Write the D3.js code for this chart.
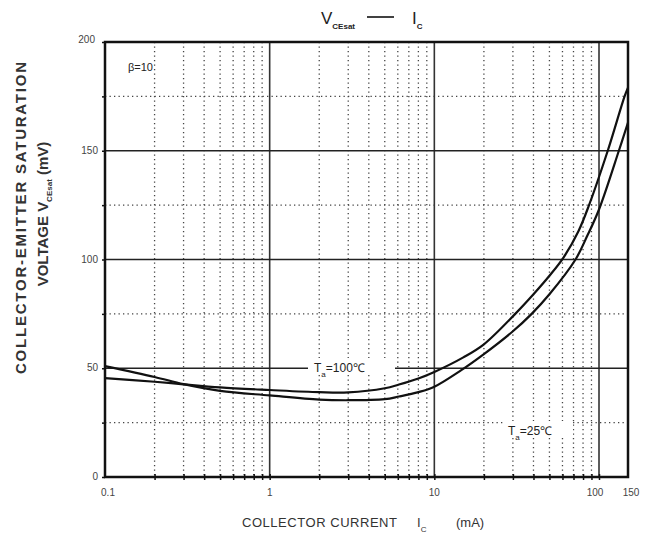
<!DOCTYPE html>
<html><head><meta charset="utf-8">
<script src="https://cdn.jsdelivr.net/npm/d3@7"></script>
<style>body{margin:0;background:#fff}svg{display:block}text{font-family:"Liberation Sans",Arial,sans-serif;fill:#222}</style>
</head><body>
<svg id="c" width="657" height="535"></svg>
<script>
// Data (mA, mV)
const ic100 = [0.1,0.2,0.3,0.5,1,2,3,5,6.1,8,10,15,20,31,40,50,61,75,87,113,143,150];
const vce100 = [45.5,43.8,42.6,41.2,40,39,38.9,40.8,42.5,45.3,48.3,55,61,75,84,92.5,101,113,125,150,175,179];
const ic25 = [0.1,0.2,0.3,0.5,1,2,3,5,6.1,8,10,14.5,20,30,39,50,72,85,100,132,150];
const vce25 = [51,46,42.7,39.6,37.5,35.6,35.3,35.8,37,39,41.5,49,56.5,67,75,84,100,111,123,150,163];
const xTickVals = [0.1,1,10,100,150];
const xTickLabels = ["0.1","1","10","100","150"];
const yTickVals = [0,50,100,150,200];
const yTickLabels = ["0","50","100","150","200"];

const svg = d3.select("#c");
const L=105, R=628, T=42, B=477;
const x = d3.scaleLog().domain([0.1,150]).range([L,R]);
const y = d3.scaleLinear().domain([0,200]).range([B,T]);
const g = svg.append("g");

// minor vertical dotted grid
const minors=[];
[0.1,1,10].forEach(d=>{for(let k=2;k<=9;k++) minors.push(d*k);});
g.selectAll(".vm").data(minors).join("line")
 .attr("x1",d=>x(d)).attr("x2",d=>x(d)).attr("y1",T).attr("y2",B)
 .attr("stroke","#444").attr("stroke-width",1.3).attr("stroke-dasharray","1.3,3.2");
// minor horizontal dotted
g.selectAll(".hm").data([25,75,125,175]).join("line")
 .attr("x1",L).attr("x2",R).attr("y1",d=>y(d)).attr("y2",d=>y(d))
 .attr("stroke","#444").attr("stroke-width",1.3).attr("stroke-dasharray","1.3,3.2");
// major
g.selectAll(".vM").data([1,10,100]).join("line")
 .attr("x1",d=>x(d)).attr("x2",d=>x(d)).attr("y1",T).attr("y2",B)
 .attr("stroke","#333").attr("stroke-width",1.6);
g.selectAll(".hM").data([50,100,150]).join("line")
 .attr("x1",L).attr("x2",R).attr("y1",d=>y(d)).attr("y2",d=>y(d))
 .attr("stroke","#222").attr("stroke-width",1.6);

// axes ticks
const xa = d3.axisBottom(x).tickValues(minors.concat([1,10,100])).tickSize(3).tickFormat("");
g.append("g").attr("transform",`translate(0,${B})`).call(xa).call(s=>{s.select(".domain").remove();s.selectAll("line").attr("stroke","#111").attr("stroke-width",1.5).attr("y1",-3);});
const ya = d3.axisLeft(y).tickValues(d3.range(0,201,25)).tickSize(3).tickFormat("");
g.append("g").attr("transform",`translate(${L},0)`).call(ya).call(s=>{s.select(".domain").remove();s.selectAll("line").attr("stroke","#111").attr("stroke-width",1.5);});

// tick labels
g.selectAll(".xl").data(xTickVals).join("text")
 .attr("x",(d,i)=>x(d)+(i==0?3:i==3?-4:i==4?3:0)).attr("y",496).attr("text-anchor","middle")
 .attr("font-size",10).style("fill","#444").text((d,i)=>xTickLabels[i]);
g.selectAll(".yl").data(yTickVals).join("text")
 .attr("x",(d,i)=>i==4?95:98).attr("y",d=>y(d)+(d==200?1:3)).attr("text-anchor","end")
 .attr("font-size",10).style("fill","#444").text((d,i)=>yTickLabels[i]);

// curves
const line = d3.line().x(d=>x(d[0])).y(d=>y(d[1])).curve(d3.curveCatmullRom.alpha(0.5));
g.append("path").datum(ic100.map((d,i)=>[d,vce100[i]])).attr("d",line)
 .attr("fill","none").attr("stroke","#111").attr("stroke-width",2.2);
g.append("path").datum(ic25.map((d,i)=>[d,vce25[i]])).attr("d",line)
 .attr("fill","none").attr("stroke","#111").attr("stroke-width",2.2);

// frame
g.append("rect").attr("x",L).attr("y",T).attr("width",R-L).attr("height",B-T)
 .attr("fill","none").attr("stroke","#111").attr("stroke-width",2.5);

// labels inside
g.append("rect").attr("x",308).attr("y",358).attr("width",87).attr("height",17).attr("fill","#fff");
const t1=g.append("text").attr("x",314).attr("y",372).attr("font-size",12);
t1.append("tspan").text("T");
t1.append("tspan").attr("font-size",8).attr("dy",5).text("a");
t1.append("tspan").attr("dy",-5).text("=100℃");
g.append("rect").attr("x",503).attr("y",421).attr("width",70).attr("height",17).attr("fill","#fff");
const t2=g.append("text").attr("x",508).attr("y",435).attr("font-size",12);
t2.append("tspan").text("T");
t2.append("tspan").attr("font-size",8).attr("dy",5).text("a");
t2.append("tspan").attr("dy",-5).text("=25℃");
g.append("text").attr("x",128).attr("y",71).attr("font-size",11).text("β=10");

// title
const tt=svg.append("text").attr("x",321).attr("y",24).attr("font-size",17);
tt.append("tspan").text("V");
tt.append("tspan").attr("font-size",8).attr("font-weight","bold").attr("dy",5).text("CEsat");
svg.append("line").attr("x1",367).attr("x2",394).attr("y1",17).attr("y2",17).attr("stroke","#111").attr("stroke-width",1.6);
const tt2=svg.append("text").attr("x",412).attr("y",24).attr("font-size",17);
tt2.append("tspan").text("I");
tt2.append("tspan").attr("font-size",8).attr("font-weight","bold").attr("dy",5).text("C");

// x title
const xt=svg.append("text").attr("y",527).attr("font-size",13).style("fill","#333");
xt.append("tspan").attr("x",242).attr("textLength",155).text("COLLECTOR CURRENT");
xt.append("tspan").attr("x",417).text("I");
xt.append("tspan").attr("font-size",8).attr("dy",5).text("C");
xt.append("tspan").attr("x",456).attr("dy",-5).text("(mA)");

// y title
svg.append("text").attr("transform","translate(26,218) rotate(-90)").attr("text-anchor","middle")
 .attr("font-size",15).attr("font-weight","bold").attr("textLength",312).attr("lengthAdjust","spacing")
 .style("fill","#333").text("COLLECTOR-EMITTER SATURATION");
const y2=svg.append("text").attr("transform","translate(48,214) rotate(-90)").attr("text-anchor","middle")
 .attr("font-size",15).attr("font-weight","bold").style("fill","#333");
y2.append("tspan").text("VOLTAGE   V");
y2.append("tspan").attr("font-size",8).attr("dy",4).text("CEsat");
y2.append("tspan").attr("dy",-4).text("   (mV)");
</script>
</body></html>
